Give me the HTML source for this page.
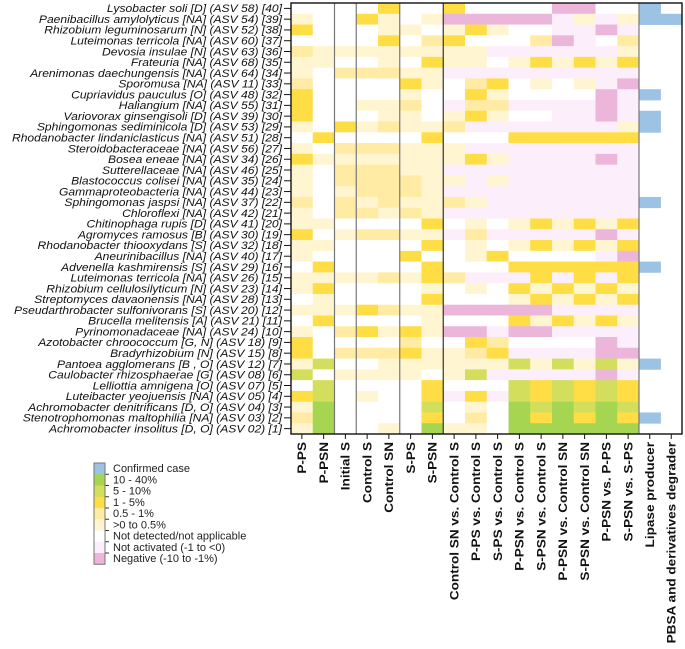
<!DOCTYPE html>
<html><head><meta charset="utf-8"><style>
html,body{margin:0;padding:0;background:#fff;}
svg{display:block;font-family:"Liberation Sans",sans-serif;}
</style></head><body>
<svg id="chart" width="685" height="649" viewBox="0 0 685 649"></svg>
<script>
const rowLabels = [
"Lysobacter soli [D] (ASV 58) [40]","Paenibacillus amylolyticus [NA] (ASV 54) [39]","Rhizobium leguminosarum [N] (ASV 52) [38]","Luteimonas terricola [NA] (ASV 60) [37]","Devosia insulae [N] (ASV 63) [36]","Frateuria [NA] (ASV 68) [35]","Arenimonas daechungensis [NA] (ASV 64) [34]","Sporomusa [NA] (ASV 11) [33]","Cupriavidus pauculus [O] (ASV 48) [32]","Haliangium [NA] (ASV 55) [31]","Variovorax ginsengisoli [D] (ASV 39) [30]","Sphingomonas sediminicola [D] (ASV 53) [29]","Rhodanobacter lindaniclasticus [NA] (ASV 51) [28]","Steroidobacteraceae [NA] (ASV 56) [27]","Bosea eneae [NA] (ASV 34) [26]","Sutterellaceae [NA] (ASV 46) [25]","Blastococcus colisei [NA] (ASV 35) [24]","Gammaproteobacteria [NA] (ASV 44) [23]","Sphingomonas jaspsi [NA] (ASV 37) [22]","Chloroflexi [NA] (ASV 42) [21]","Chitinophaga rupis [D] (ASV 41) [20]","Agromyces ramosus [B] (ASV 30) [19]","Rhodanobacter thiooxydans [S] (ASV 32) [18]","Aneurinibacillus [NA] (ASV 40) [17]","Advenella kashmirensis [S] (ASV 29) [16]","Luteimonas terricola [NA] (ASV 26) [15]","Rhizobium cellulosilyticum [N] (ASV 23) [14]","Streptomyces davaonensis [NA] (ASV 28) [13]","Pseudarthrobacter sulfonivorans [S] (ASV 20) [12]","Brucella melitensis [A] (ASV 21) [11]","Pyrinomonadaceae [NA] (ASV 24) [10]","Azotobacter chroococcum [G, N] (ASV 18) [9]","Bradyrhizobium [N] (ASV 15) [8]","Pantoea agglomerans [B , O] (ASV 12) [7]","Caulobacter rhizosphaerae [G] (ASV 08) [6]","Lelliottia amnigena [O] (ASV 07) [5]","Luteibacter yeojuensis [NA] (ASV 05) [4]","Achromobacter denitrificans [D, O] (ASV 04) [3]","Stenotrophomonas maltophilia [NA] (ASV 03) [2]","Achromobacter insolitus [D, O] (ASV 02) [1]"];
const colLabels = ["P-PS","P-PSN","Initial S","Control S","Control SN","S-PS","S-PSN","Control SN vs. Control S","P-PS vs. Control S","S-PS vs. Control S","P-PSN vs. Control S","S-PSN vs. Control S","P-PSN vs. Control SN","S-PSN vs. Control SN","P-PSN vs. P-PS","S-PSN vs. S-PS"];
const extraLabels = ["Lipase producer","PBSA and derivatives degrader"];
// category codes: 0 none, 1 >0-0.5, 2 0.5-1, 3 1-5, 4 5-10, 5 10-40, -1 not activated, -2 negative
const values = [
[0,0,0,0,3,0,0,3,0,0,0,0,-2,-2,0,0],
[1,0,0,3,1,0,1,-2,-2,-2,-2,-2,-1,1,-1,1],
[3,0,0,0,1,1,0,1,3,1,0,0,-1,-1,-2,-1],
[0,0,0,0,3,0,2,3,0,0,0,2,-2,-1,0,2],
[2,1,1,1,1,1,1,1,1,-1,-1,-1,-1,-1,-1,1],
[1,1,0,0,1,0,3,1,1,0,1,3,1,3,1,3],
[1,0,2,2,2,1,1,-1,-1,-1,-1,-1,-1,-1,-1,-1],
[2,0,0,0,0,3,1,0,2,3,0,1,0,1,-1,-2],
[3,0,0,0,0,1,0,0,3,1,0,0,0,0,-2,-1],
[3,0,0,1,1,2,0,-1,2,2,-1,-1,-1,-1,-2,-1],
[3,0,0,0,1,1,0,1,3,1,0,0,-1,-1,-2,-1],
[1,0,3,1,2,1,1,2,-1,-1,-1,-1,-1,-1,-1,1],
[0,3,0,0,0,0,3,0,0,0,3,3,3,3,3,3],
[1,0,2,2,2,1,1,1,-1,-1,-1,-1,-1,-1,-1,-1],
[3,1,1,1,1,1,1,1,3,1,-1,-1,-1,-1,-2,-1],
[1,0,2,2,2,1,1,-1,-1,-1,-1,-1,-1,-1,-1,-1],
[1,0,2,2,2,2,1,1,-1,1,-1,-1,-1,-1,-1,-1],
[1,0,1,2,2,2,1,-1,-1,-1,-1,-1,-1,-1,-1,-1],
[2,0,2,1,2,1,1,2,1,-1,-1,-1,-1,-1,-1,-1],
[1,0,2,2,1,2,1,-1,-1,-1,-1,-1,-1,-1,-1,-1],
[1,1,0,0,0,0,3,0,1,0,1,3,1,3,1,3],
[3,0,1,2,2,1,1,-1,2,-1,-1,-1,-1,-1,-2,-1],
[1,1,0,0,0,0,3,0,1,0,1,3,1,3,1,3],
[1,0,0,0,0,3,0,0,1,3,0,0,0,0,-1,-2],
[0,3,0,0,0,0,3,0,0,0,3,3,3,3,3,3],
[1,1,1,1,2,1,3,2,-1,-1,-1,3,-1,3,-1,3],
[1,3,0,0,0,0,1,0,1,0,3,1,3,1,3,1],
[0,1,0,0,0,0,3,0,0,0,1,3,1,3,1,3],
[1,1,1,3,2,1,1,-2,-2,-2,-2,-2,-1,-1,-1,-1],
[0,3,0,0,0,0,1,0,0,0,3,1,3,1,3,1],
[1,0,2,3,1,3,1,-2,-2,-1,-2,-2,-1,-1,-1,-1],
[3,0,0,0,0,2,0,0,3,2,0,0,0,0,-2,-1],
[3,0,2,2,2,3,1,1,2,3,-1,-1,-1,-1,-2,-2],
[1,4,0,0,1,1,1,1,1,1,4,1,4,1,4,1],
[4,0,1,1,1,1,0,1,4,-1,-1,-1,-1,-1,-2,-1],
[0,4,0,0,0,0,3,0,0,0,4,3,4,3,4,3],
[3,4,0,1,0,0,3,-1,3,-1,4,3,4,3,4,3],
[1,5,0,0,0,0,4,0,1,0,5,4,5,4,5,4],
[2,5,0,0,0,0,3,0,2,0,5,3,5,3,5,3],
[1,5,0,0,1,0,5,1,1,0,5,5,5,5,5,5]];
const lipase = [1,1,0,0,0,0,0,0,1,0,1,1,0,0,0,0,0,0,1,0,0,0,0,0,1,0,0,0,0,0,0,0,0,1,0,0,0,0,1,0];
const pbsa = [0,1,0,0,0,0,0,0,0,0,0,0,0,0,0,0,0,0,0,0,0,0,0,0,0,0,0,0,0,0,0,0,0,0,0,0,0,0,0,0];
const legendLabels = ["Confirmed case","10 - 40%","5 - 10%","1 - 5%","0.5 - 1%",">0 to 0.5%","Not detected/not applicable","Not activated  (-1 to <0)","Negative  (-10 to -1%)"];
const legendCodes = ["blue",5,4,3,2,1,0,-1,-2];

const colors = {"5":"#a6d651","4":"#d3df5c","3":"#ffdd45","2":"#ffeba3","1":"#fff5d0","0":"#ffffff","-1":"#fdeefb","-2":"#ecb5da","blue":"#9dc3e4"};
const NS="http://www.w3.org/2000/svg";
const svg=document.getElementById('chart');
function mk(t,a,p){const e=document.createElementNS(NS,t);for(const k in a)e.setAttribute(k,a[k]);(p||svg).appendChild(e);return e;}
const X0=291, X1=639, Y0=3, Y1=434, XR=682;
const cw=(X1-X0)/colLabels.length, rh=(Y1-Y0)/rowLabels.length;
const xOf=c=>X0+c*cw, yOf=r=>Y0+r*rh;

const cells=mk('g',{});


values.forEach((row,r)=>row.forEach((v,c)=>{
  const e=mk('rect',{x:xOf(c),y:yOf(r),width:cw+0.4,height:rh+0.4,fill:colors[String(v)]},cells);
  
  
}));
[lipase,pbsa].forEach((arr,k)=>arr.forEach((v,r)=>{
  if(!v)return;
  const e=mk('rect',{x:X1+k*(XR-X1)/2,y:yOf(r),width:(XR-X1)/2+0.4,height:rh+0.4,fill:colors.blue},cells);
  
  
}));
[2,3,5,7,16].forEach(c=>{
  const e=mk('line',{x1:xOf(c),x2:xOf(c),y1:Y0,y2:Y1,stroke:c===7?'#333':'#777','stroke-width':1.2});
  
  
});
const fr=mk('rect',{x:X0,y:Y0,width:XR-X0,height:Y1-Y0,fill:'none',stroke:'#111','stroke-width':1.4});



rowLabels.forEach((t,r)=>{
  const cy=yOf(r)+rh/2;
  const tk=mk('line',{x1:X0-7,x2:X0,y1:cy,y2:cy,stroke:'#111','stroke-width':1});
  
  
  const e=mk('text',{x:0,y:0,'text-anchor':'end','font-size':'11px','font-style':'italic',fill:'#111',transform:`translate(${X0-9},${cy+3.8}) scale(1.1,1)`});
  e.textContent=t;
  
  
});
colLabels.concat(extraLabels).forEach((t,c)=>{
  const cx = c<16 ? xOf(c)+cw/2 : X1+(c-16)*(XR-X1)/2+(XR-X1)/4;
  const tk=mk('line',{x1:cx,x2:cx,y1:Y1,y2:Y1+5,stroke:'#111','stroke-width':1});
  
  
  const e=mk('text',{x:0,y:0,'text-anchor':'end','font-size':'11.5px','font-weight':'bold',fill:'#111',transform:`translate(${cx+4.2},${Y1+8}) rotate(-90) scale(1.18,1)`});
  e.textContent=t;
  
  
});
const LX=94, LY=463, LH=11.25;
legendLabels.forEach((t,i)=>{
  const e=mk('rect',{x:LX,y:LY+i*LH,width:11,height:LH+0.3,fill:colors[String(legendCodes[i])]});
  
  
  const tx=mk('text',{x:LX+19,y:LY+i*LH+9,'font-size':'11px',fill:'#222'});
  tx.textContent=t;
  
  
  if(i>0){const l=mk('line',{x1:LX+11,x2:LX+15,y1:LY+i*LH,y2:LY+i*LH,stroke:'#333','stroke-width':1});
    
    }
});
const lb=mk('rect',{x:LX,y:LY,width:11,height:LH*legendLabels.length,fill:'none',stroke:'#777','stroke-width':1});


</script>
</body></html>
